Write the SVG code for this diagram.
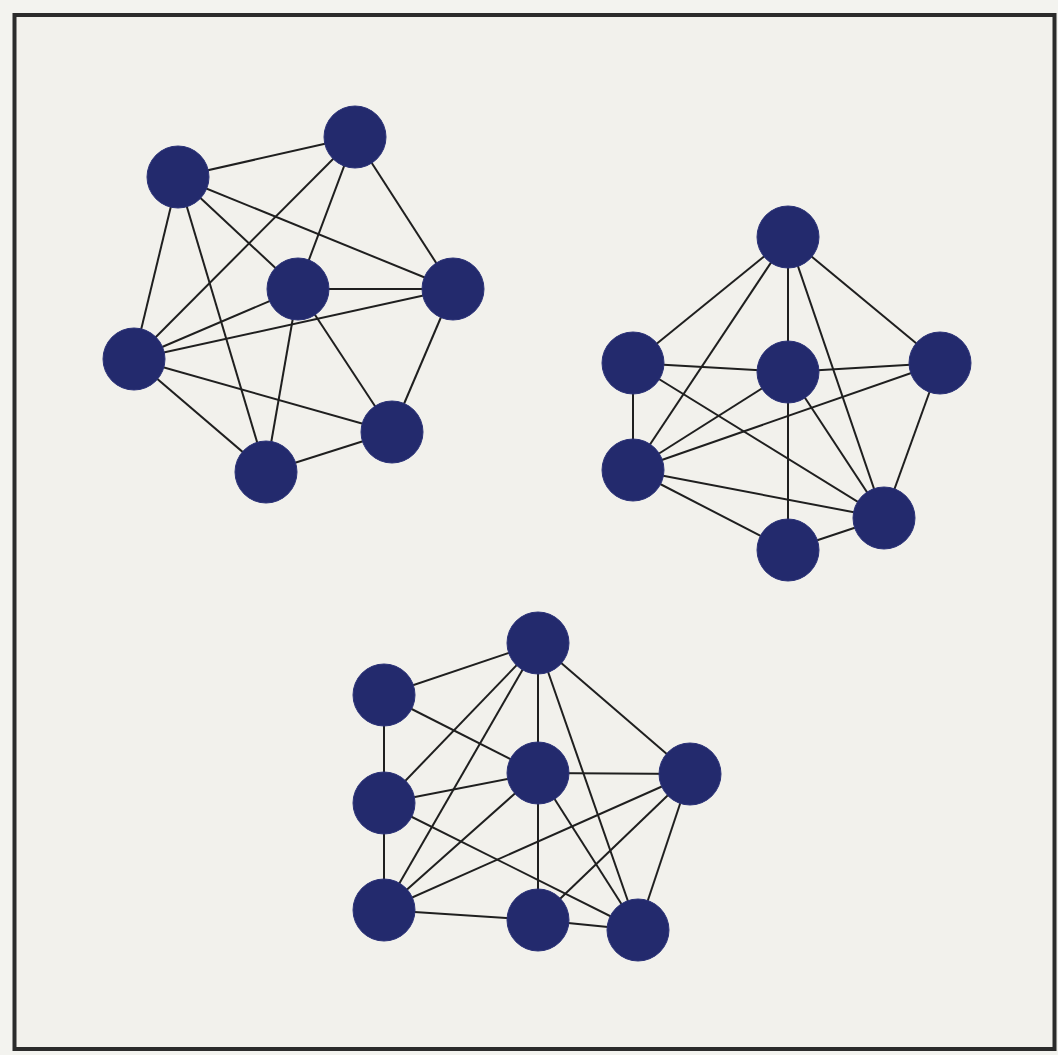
<svg xmlns="http://www.w3.org/2000/svg" width="1058" height="1055" viewBox="0 0 1058 1055">
<style>
.n{fill:#232a6d;stroke:#2c3378;stroke-width:1}
.e{stroke:#1f1f1f;stroke-width:2;fill:none}
</style>
<rect x="0" y="0" width="1058" height="1055" fill="#f3f3ef"/>
<rect x="14.5" y="15" width="1040" height="1034" fill="#f2f1ec" stroke="#2b2b2b" stroke-width="4"/>
<g id="connectors" class="e">
<!-- graph 1 -->
<line x1="178" y1="177" x2="355" y2="137"/>
<line x1="178" y1="177" x2="134" y2="359"/>
<line x1="178" y1="177" x2="266" y2="472"/>
<line x1="178" y1="177" x2="298" y2="289"/>
<line x1="178" y1="177" x2="453" y2="289"/>
<line x1="355" y1="137" x2="134" y2="359"/>
<line x1="355" y1="137" x2="298" y2="289"/>
<line x1="355" y1="137" x2="453" y2="289"/>
<line x1="298" y1="289" x2="453" y2="289"/>
<line x1="298" y1="289" x2="134" y2="359"/>
<line x1="298" y1="289" x2="266" y2="472"/>
<line x1="298" y1="289" x2="392" y2="432"/>
<line x1="453" y1="289" x2="134" y2="359"/>
<line x1="453" y1="289" x2="392" y2="432"/>
<line x1="134" y1="359" x2="392" y2="432"/>
<line x1="134" y1="359" x2="266" y2="472"/>
<line x1="266" y1="472" x2="392" y2="432"/>
<!-- graph 2 -->
<line x1="788" y1="237" x2="633" y2="363"/>
<line x1="788" y1="237" x2="633" y2="470"/>
<line x1="788" y1="237" x2="788" y2="372"/>
<line x1="788" y1="237" x2="884" y2="518"/>
<line x1="788" y1="237" x2="940" y2="363"/>
<line x1="633" y1="363" x2="788" y2="372"/>
<line x1="633" y1="363" x2="633" y2="470"/>
<line x1="633" y1="363" x2="884" y2="518"/>
<line x1="788" y1="372" x2="940" y2="363"/>
<line x1="788" y1="372" x2="633" y2="470"/>
<line x1="788" y1="372" x2="788" y2="550"/>
<line x1="788" y1="372" x2="884" y2="518"/>
<line x1="940" y1="363" x2="633" y2="470"/>
<line x1="940" y1="363" x2="884" y2="518"/>
<line x1="633" y1="470" x2="884" y2="518"/>
<line x1="633" y1="470" x2="788" y2="550"/>
<line x1="788" y1="550" x2="884" y2="518"/>
<!-- graph 3 -->
<line x1="538" y1="643" x2="384" y2="695"/>
<line x1="538" y1="643" x2="384" y2="803"/>
<line x1="538" y1="643" x2="384" y2="910"/>
<line x1="538" y1="643" x2="538" y2="773"/>
<line x1="538" y1="643" x2="638" y2="930"/>
<line x1="538" y1="643" x2="690" y2="774"/>
<line x1="384" y1="695" x2="538" y2="773"/>
<line x1="384" y1="695" x2="384" y2="803"/>
<line x1="384" y1="803" x2="538" y2="773"/>
<line x1="384" y1="803" x2="384" y2="910"/>
<line x1="384" y1="803" x2="638" y2="930"/>
<line x1="538" y1="773" x2="384" y2="910"/>
<line x1="538" y1="773" x2="538" y2="920"/>
<line x1="538" y1="773" x2="638" y2="930"/>
<line x1="538" y1="773" x2="690" y2="774"/>
<line x1="690" y1="774" x2="384" y2="910"/>
<line x1="690" y1="774" x2="538" y2="920"/>
<line x1="690" y1="774" x2="638" y2="930"/>
<line x1="384" y1="910" x2="538" y2="920"/>
<line x1="538" y1="920" x2="638" y2="930"/>
</g>
<g id="g1-a"><circle class="n" cx="178" cy="177" r="31"/></g>
<g id="g1-b"><circle class="n" cx="355" cy="137" r="31"/></g>
<g id="g1-c"><circle class="n" cx="298" cy="289" r="31"/></g>
<g id="g1-d"><circle class="n" cx="453" cy="289" r="31"/></g>
<g id="g1-e"><circle class="n" cx="134" cy="359" r="31"/></g>
<g id="g1-f"><circle class="n" cx="392" cy="432" r="31"/></g>
<g id="g1-g"><circle class="n" cx="266" cy="472" r="31"/></g>
<g id="g2-t"><circle class="n" cx="788" cy="237" r="31"/></g>
<g id="g2-l"><circle class="n" cx="633" cy="363" r="31"/></g>
<g id="g2-m"><circle class="n" cx="788" cy="372" r="31"/></g>
<g id="g2-r"><circle class="n" cx="940" cy="363" r="31"/></g>
<g id="g2-ll"><circle class="n" cx="633" cy="470" r="31"/></g>
<g id="g2-br"><circle class="n" cx="884" cy="518" r="31"/></g>
<g id="g2-b"><circle class="n" cx="788" cy="550" r="31"/></g>
<g id="g3-t"><circle class="n" cx="538" cy="643" r="31"/></g>
<g id="g3-ul"><circle class="n" cx="384" cy="695" r="31"/></g>
<g id="g3-m"><circle class="n" cx="538" cy="773" r="31"/></g>
<g id="g3-r"><circle class="n" cx="690" cy="774" r="31"/></g>
<g id="g3-ml"><circle class="n" cx="384" cy="803" r="31"/></g>
<g id="g3-bl"><circle class="n" cx="384" cy="910" r="31"/></g>
<g id="g3-bm"><circle class="n" cx="538" cy="920" r="31"/></g>
<g id="g3-br"><circle class="n" cx="638" cy="930" r="31"/></g>
</svg>
